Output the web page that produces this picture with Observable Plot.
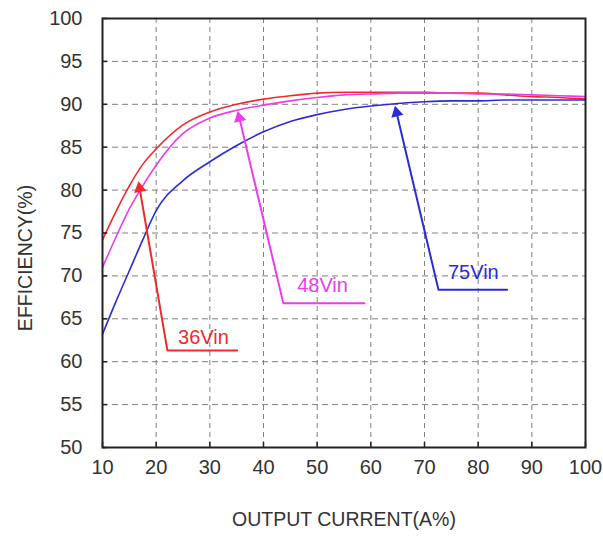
<!DOCTYPE html>
<html><head><meta charset="utf-8">
<script src="https://cdn.jsdelivr.net/npm/d3@7"></script>
<script src="https://cdn.jsdelivr.net/npm/@observablehq/plot@0.6"></script>
<style>html,body{margin:0;padding:0;background:#fff;}</style>
</head><body><div id="chart"></div>
<script>
// Data
const current = [10, 12.5, 15, 17.5, 20, 25, 30, 35, 40, 45, 50, 55, 60, 65, 70, 75, 80, 85, 90, 95, 100];
const eff36 = [74.2, 77.5, 80.5, 83.0, 84.8, 87.6, 89.1, 90.0, 90.6, 91.0, 91.3, 91.4, 91.4, 91.4, 91.4, 91.3, 91.3, 91.1, 90.9, 90.8, 90.6];
const eff48 = [71.0, 74.5, 77.8, 80.5, 82.9, 86.6, 88.4, 89.3, 89.9, 90.4, 90.8, 91.1, 91.2, 91.3, 91.3, 91.3, 91.2, 91.2, 91.1, 91.0, 90.9];
const eff75 = [63.2, 67.0, 70.6, 74.2, 77.6, 81.1, 83.3, 85.2, 86.8, 88.0, 88.8, 89.4, 89.8, 90.1, 90.3, 90.4, 90.4, 90.5, 90.5, 90.5, 90.5];
const seriesNames = ["36Vin", "48Vin", "75Vin"];
const labelX = [28.8, 51.0, 79.1];
const labelY = [62.8, 68.9, 70.4];
const arrowEndX = [35.1, 58.8, 85.4];
const arrowCornerX = [22.1, 43.7, 72.6];
const arrowBaseY = [61.3, 66.8, 68.4];
const arrowTipX = [16.7, 35.2, 64.5];
const arrowTipY = [81.0, 89.2, 89.8];
const xTicks = [10, 20, 30, 40, 50, 60, 70, 80, 90, 100];
const yTicks = [50, 55, 60, 65, 70, 75, 80, 85, 90, 95, 100];

// Styling / layout
const colors = ["#f02a2a", "#ec3cec", "#2c2cd6"];
const W = 603, H = 536, mL = 102, mR = 18, mT = 18, mB = 89;
const plotW = W - mL - mR, plotH = H - mT - mB;
const pxX = plotW / (100 - 10), pxY = plotH / (100 - 50);

const curveRows = [];
current.forEach((c, i) => {
  curveRows.push({c, e: eff36[i], s: seriesNames[0]});
  curveRows.push({c, e: eff48[i], s: seriesNames[1]});
  curveRows.push({c, e: eff75[i], s: seriesNames[2]});
});

// Arrow geometry: triangle head centroid set back from tip
const headBack = 6.9; // px
const arrowRows = [], headRows = [];
seriesNames.forEach((s, i) => {
  const dxp = (arrowTipX[i] - arrowCornerX[i]) * pxX;
  const dyp = (arrowTipY[i] - arrowBaseY[i]) * pxY;
  const len = Math.hypot(dxp, dyp);
  const cx = arrowTipX[i] - (dxp / len) * headBack / pxX;
  const cy = arrowTipY[i] - (dyp / len) * headBack / pxY;
  const angle = Math.atan2(dxp, dyp) * 180 / Math.PI;
  arrowRows.push({x: arrowEndX[i], y: arrowBaseY[i], s});
  arrowRows.push({x: arrowCornerX[i], y: arrowBaseY[i], s});
  arrowRows.push({x: cx, y: cy, s});
  headRows.push({x: cx, y: cy, s, angle});
});

const labelRows = seriesNames.map((s, i) => ({x: labelX[i], y: labelY[i], s}));

const font = "'Liberation Sans', Arial, sans-serif";
const chart = Plot.plot({
  width: W, height: H,
  marginLeft: mL, marginRight: mR, marginTop: mT, marginBottom: mB,
  style: {fontFamily: font, fontSize: "20px", background: "#fff", color: "#222"},
  x: {domain: [10, 100]},
  y: {domain: [50, 100]},
  color: {domain: seriesNames, range: colors},
  marks: [
    Plot.gridX(xTicks, {stroke: "#808080", strokeOpacity: 1, strokeDasharray: "5,4"}),
    Plot.gridY(yTicks, {stroke: "#808080", strokeOpacity: 1, strokeDasharray: "6,4"}),
    Plot.line(curveRows, {x: "c", y: "e", z: "s", stroke: "s", curve: "monotone-x", strokeWidth: 1.6}),
    Plot.line(arrowRows, {x: "x", y: "y", z: "s", stroke: "s", strokeWidth: 2}),
    Plot.dot(headRows, {x: "x", y: "y", fill: "s", symbol: "triangle", r: 4.6, rotate: "angle", stroke: null}),
    Plot.text(labelRows, {x: "x", y: "y", text: "s", fill: "s", fontSize: 20}),
    Plot.frame({stroke: "#222", strokeWidth: 2}),
    Plot.tickX(xTicks, {x: d => d, insetTop: plotH - 5, stroke: "#222", strokeWidth: 1.5}),
    Plot.tickY(yTicks, {y: d => d, insetRight: plotW - 5, stroke: "#222", strokeWidth: 1.5}),
    Plot.axisX({ticks: xTicks, tickSize: 0, tickPadding: 12, label: null, fontSize: 20, fill: "#333"}),
    Plot.axisY({ticks: yTicks, tickSize: 0, tickPadding: 20, label: null, fontSize: 20, fill: "#333"}),
    Plot.text(["OUTPUT CURRENT(A%)"], {frameAnchor: "bottom", dy: 78, fontSize: 19.5, fill: "#333"}),
    Plot.text(["EFFICIENCY(%)"], {frameAnchor: "left", textAnchor: "middle", dx: -77, dy: 25, rotate: -90, fontSize: 19.5, fill: "#333"})
  ]
});
document.getElementById("chart").appendChild(chart);
</script>
</body></html>
